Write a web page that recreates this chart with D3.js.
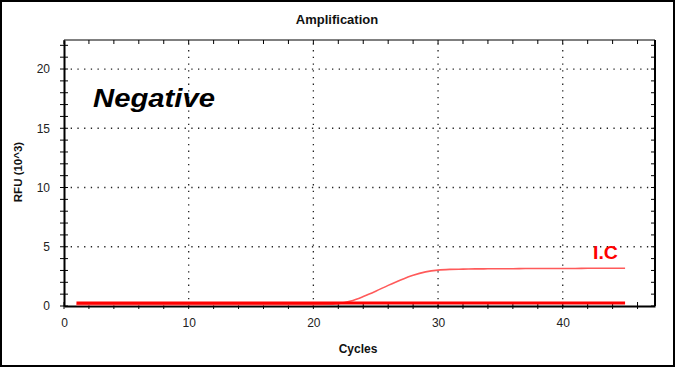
<!DOCTYPE html>
<html><head><meta charset="utf-8">
<script src="https://cdn.jsdelivr.net/npm/d3@7"></script>
<style>
html,body{margin:0;padding:0;background:#fff;}
svg{display:block;}
text{font-family:"Liberation Sans",Arial,sans-serif;}
</style></head>
<body>
<script>
// ---- data ----
const cycles = d3.range(1, 46);
const negativeRFU = [0.26,0.26,0.26,0.26,0.26,0.26,0.26,0.26,0.26,0.26,0.26,0.26,0.26,0.26,0.26,0.26,0.26,0.26,0.26,0.26,0.26,0.26,0.26,0.26,0.26,0.26,0.26,0.26,0.26,0.26,0.26,0.26,0.26,0.26,0.26,0.26,0.26,0.26,0.26,0.26,0.26,0.26,0.26,0.26,0.26];
const icRFU = [0.12,0.12,0.12,0.12,0.12,0.12,0.12,0.12,0.12,0.12,0.12,0.12,0.12,0.12,0.12,0.12,0.12,0.12,0.12,0.12,0.13,0.2,0.42,0.8,1.25,1.74,2.2,2.6,2.88,3.03,3.09,3.11,3.13,3.14,3.15,3.15,3.16,3.16,3.17,3.17,3.17,3.18,3.18,3.18,3.18];
const xTicks = [0,10,20,30,40];
const yTicks = [0,5,10,15,20];
const title = "Amplification";
const xLabel = "Cycles";
const yLabel = "RFU (10^3)";
const sampleLabel = "Negative";
const seriesLabel = "I.C";

// ---- layout ----
const W = 675, H = 367;
const L = 64, R = 655, T = 40, B = 306;
const svg = d3.select("body").append("svg").attr("width", W).attr("height", H);
svg.append("rect").attr("x",1).attr("y",1).attr("width",W-2).attr("height",H-2)
  .attr("fill","#fff").attr("stroke","#000").attr("stroke-width",2);

const x = d3.scaleLinear().domain([0, 47.4]).range([L, R]);
const y = d3.scaleLinear().domain([0, 22.45]).range([B, T]);

// grid
const g = svg.append("g");
g.selectAll(".gx").data(xTicks.filter(d=>d>0)).join("line")
  .attr("x1",d=>x(d)).attr("x2",d=>x(d)).attr("y1",B).attr("y2",T)
  .attr("stroke","#222").attr("stroke-width",1.3).attr("stroke-dasharray","1.3,5.4");
g.selectAll(".gy").data(yTicks.filter(d=>d>0)).join("line")
  .attr("x1",L).attr("x2",R).attr("y1",d=>y(d)).attr("y2",d=>y(d))
  .attr("stroke","#222").attr("stroke-width",1.3).attr("stroke-dasharray","1.3,5.4");

// frame top/right
svg.append("line").attr("x1",L).attr("x2",R).attr("y1",T).attr("y2",T).attr("stroke","#000").attr("stroke-width",1);
svg.append("line").attr("x1",R).attr("x2",R).attr("y1",T).attr("y2",B).attr("stroke","#000").attr("stroke-width",2);

// top ticks (inward)
const minorX = d3.range(0, 47, 2);
svg.append("g").selectAll("line").data(minorX).join("line")
  .attr("x1",d=>x(d)).attr("x2",d=>x(d)).attr("y1",T).attr("y2",T+4).attr("stroke","#000");
// right ticks (inward)
const minorY = d3.range(0, 23, 1);
svg.append("g").selectAll("line").data(minorY).join("line")
  .attr("x1",R-4).attr("x2",R).attr("y1",d=>y(d)).attr("y2",d=>y(d)).attr("stroke","#000");

// bottom axis
const xAxis = d3.axisBottom(x).tickValues(xTicks).tickSize(0).tickPadding(12);
const gx = svg.append("g").attr("transform",`translate(0,${B})`).call(xAxis);
gx.select(".domain").attr("stroke","#000").attr("stroke-width",2);
gx.selectAll("text").attr("font-size",12).attr("fill","#222");
svg.append("g").selectAll("line").data(minorX).join("line")
  .attr("x1",d=>x(d)).attr("x2",d=>x(d)).attr("y1",B-4).attr("y2",B+3).attr("stroke","#000");

// left axis
const yAxis = d3.axisLeft(y).tickValues(yTicks).tickSize(0).tickPadding(14);
const gy = svg.append("g").attr("transform",`translate(${L},0)`).call(yAxis);
gy.select(".domain").attr("stroke","#000").attr("stroke-width",2);
gy.selectAll("text").attr("font-size",12).attr("fill","#222");
svg.append("g").selectAll("line").data(minorY).join("line")
  .attr("x1",L-4).attr("x2",L+4).attr("y1",d=>y(d)).attr("y2",d=>y(d)).attr("stroke","#000");

// lines
const line = d3.line().x((d,i)=>x(cycles[i])).y(d=>y(d)).curve(d3.curveMonotoneX);
svg.append("path").datum(icRFU).attr("d",line).attr("fill","none")
  .attr("stroke","#ff5a5a").attr("stroke-width",1.6);
svg.append("path").datum(negativeRFU).attr("d",line).attr("fill","none")
  .attr("stroke","#ff0000").attr("stroke-width",3);

// texts
svg.append("text").attr("x",337).attr("y",24).attr("text-anchor","middle")
  .attr("font-size",13).attr("font-weight","bold").attr("fill","#111").text(title);
svg.append("text").attr("x",358).attr("y",353).attr("text-anchor","middle")
  .attr("font-size",12).attr("font-weight","bold").attr("fill","#111").text(xLabel);
svg.append("text").attr("transform","translate(22,172) rotate(-90)").attr("text-anchor","middle")
  .attr("font-size",11.5).attr("font-weight","bold").attr("fill","#111").text(yLabel);
svg.append("text").attr("x",93).attr("y",107).attr("font-size",26).attr("font-weight","bold")
  .attr("font-style","italic").attr("textLength",122).attr("lengthAdjust","spacingAndGlyphs")
  .attr("fill","#000").text(sampleLabel);
svg.append("text").attr("x",593).attr("y",259).attr("font-size",19).attr("font-weight","bold")
  .attr("textLength",25).attr("lengthAdjust","spacingAndGlyphs")
  .attr("fill","#ff0000").text(seriesLabel);
</script>
</body></html>
